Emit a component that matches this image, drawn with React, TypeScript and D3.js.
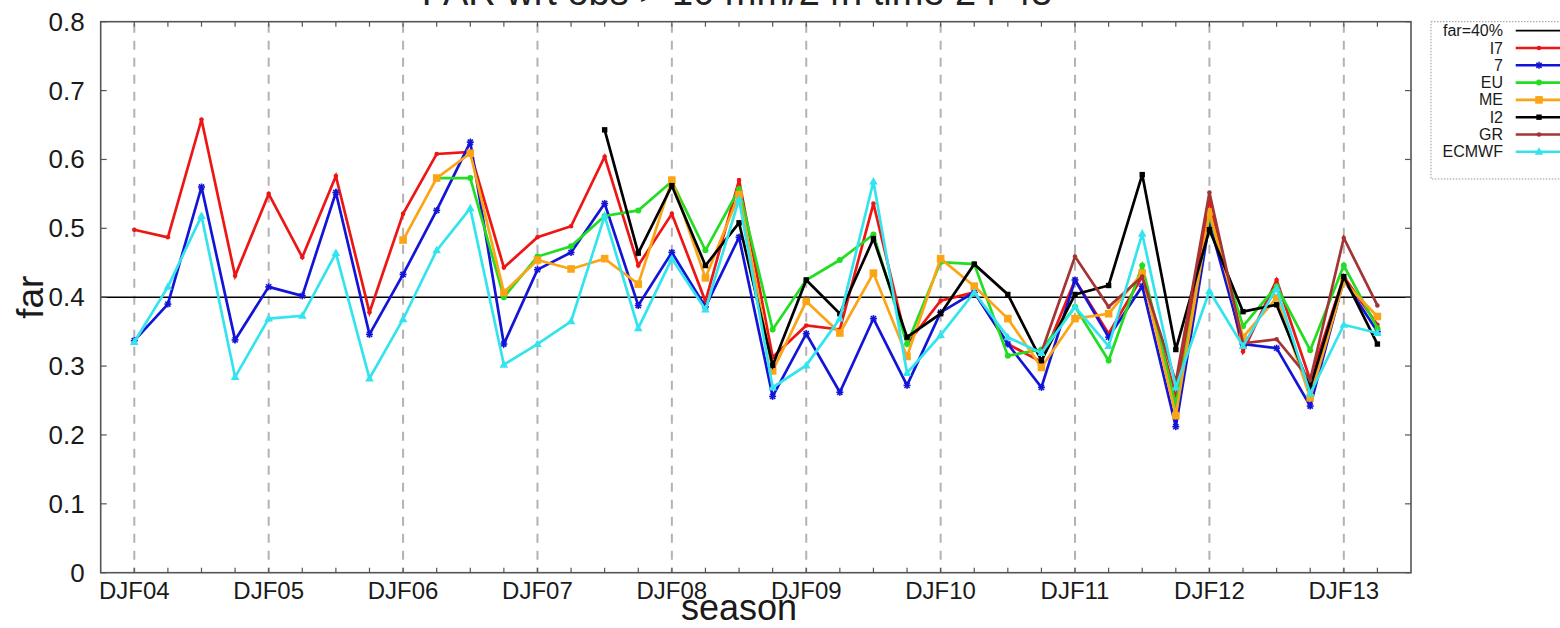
import React from 'react';
import * as d3 from 'd3';

// Seasonal FAR scores, one value per season from DJF04 to MAM13
const seasons = [
  'DJF04', 'MAM04', 'JJA04', 'SON04', 'DJF05', 'MAM05', 'JJA05', 'SON05',
  'DJF06', 'MAM06', 'JJA06', 'SON06', 'DJF07', 'MAM07', 'JJA07', 'SON07',
  'DJF08', 'MAM08', 'JJA08', 'SON08', 'DJF09', 'MAM09', 'JJA09', 'SON09',
  'DJF10', 'MAM10', 'JJA10', 'SON10', 'DJF11', 'MAM11', 'JJA11', 'SON11',
  'DJF12', 'MAM12', 'JJA12', 'SON12', 'DJF13', 'MAM13',
];

const yTicks = [0, 0.1, 0.2, 0.3, 0.4, 0.5, 0.6, 0.7, 0.8];
const threshold = 0.4;

const I7 = [0.498, 0.487, 0.658, 0.431, 0.550, 0.458, 0.576, 0.378, 0.521, 0.608, 0.611, 0.443,
  0.487, 0.503, 0.604, 0.446, 0.521, 0.394, 0.570, 0.313, 0.359, 0.353, 0.536, 0.332,
  0.395, 0.407, 0.332, 0.306, 0.425, 0.347, 0.430, 0.257, 0.542, 0.321, 0.425, 0.280, 0.430, 0.360];

const M7 = [0.337, 0.390, 0.560, 0.338, 0.415, 0.402, 0.552, 0.346, 0.433, 0.526, 0.625, 0.332,
  0.440, 0.465, 0.536, 0.388, 0.465, 0.386, 0.487, 0.256, 0.347, 0.262, 0.369, 0.272,
  0.378, 0.407, 0.332, 0.269, 0.425, 0.342, 0.416, 0.212, 0.508, 0.332, 0.326, 0.242, 0.425, 0.350];

const EU = [null, null, null, null, null, null, null, null, null, 0.573, 0.573, 0.400,
  0.459, 0.474, 0.518, 0.526, 0.568, 0.468, 0.557, 0.353, 0.425, 0.454, 0.491, 0.332,
  0.451, 0.448, 0.315, 0.324, 0.386, 0.308, 0.446, 0.243, 0.518, 0.358, 0.416, 0.323, 0.446, 0.355];

const ME = [null, null, null, null, null, null, null, null, 0.483, 0.573, 0.609, 0.407,
  0.454, 0.441, 0.456, 0.419, 0.570, 0.428, 0.549, 0.293, 0.394, 0.348, 0.435, 0.314,
  0.456, 0.416, 0.369, 0.298, 0.369, 0.376, 0.435, 0.228, 0.524, 0.342, 0.399, 0.254, 0.423, 0.372];

const I2 = [null, null, null, null, null, null, null, null, null, null, null, null,
  null, null, 0.643, 0.464, 0.562, 0.446, 0.508, 0.301, 0.425, 0.376, 0.485, 0.342,
  0.376, 0.448, 0.404, 0.308, 0.404, 0.417, 0.578, 0.324, 0.498, 0.379, 0.389, 0.269, 0.430, 0.332];

const GR = [null, null, null, null, null, null, null, null, null, null, null, null,
  null, null, null, null, null, null, null, null, null, null, null, null,
  null, null, null, 0.320, 0.459, 0.386, 0.430, 0.277, 0.552, 0.333, 0.339, 0.280, 0.486, 0.388];

const ECMWF = [0.335, 0.415, 0.518, 0.284, 0.369, 0.373, 0.464, 0.282, 0.368, 0.468, 0.529, 0.302,
  0.332, 0.365, 0.518, 0.355, 0.456, 0.382, 0.542, 0.269, 0.301, 0.369, 0.568, 0.290,
  0.345, 0.407, 0.342, 0.319, 0.386, 0.329, 0.492, 0.269, 0.409, 0.329, 0.413, 0.260, 0.360, 0.348];

type Sym = 'dot' | 'star' | 'circle' | 'square' | 'smallsquare' | 'triangle';

const series: { name: string; values: (number | null)[]; color: string; sym: Sym }[] = [
  { name: 'I7', values: I7, color: '#ee1515', sym: 'dot' },
  { name: '7', values: M7, color: '#1414d8', sym: 'star' },
  { name: 'EU', values: EU, color: '#22dd22', sym: 'circle' },
  { name: 'ME', values: ME, color: '#fba516', sym: 'square' },
  { name: 'I2', values: I2, color: '#000000', sym: 'smallsquare' },
  { name: 'GR', values: GR, color: '#a33535', sym: 'dot' },
  { name: 'ECMWF', values: ECMWF, color: '#33e4ee', sym: 'triangle' },
];

const W = 1560;
const H = 628;
const M = { left: 100.7, right: 1411, top: 21.7, bottom: 572.7 };
const FONT = '"Liberation Sans", Arial, Helvetica, sans-serif';

function Marker({ sym, cx, cy, color }: { sym: Sym; cx: number; cy: number; color: string }) {
  switch (sym) {
    case 'dot':
      return <circle cx={cx} cy={cy} r={2.3} fill={color} />;
    case 'circle':
      return <circle cx={cx} cy={cy} r={3} fill={color} />;
    case 'star':
      return (
        <g stroke={color} strokeWidth={1.6}>
          <line x1={cx - 3.5} y1={cy} x2={cx + 3.5} y2={cy} />
          <line x1={cx} y1={cy - 3.5} x2={cx} y2={cy + 3.5} />
          <line x1={cx - 2.6} y1={cy - 2.6} x2={cx + 2.6} y2={cy + 2.6} />
          <line x1={cx - 2.6} y1={cy + 2.6} x2={cx + 2.6} y2={cy - 2.6} />
        </g>
      );
    case 'square':
      return <rect x={cx - 3.8} y={cy - 3.8} width={7.6} height={7.6} fill={color} />;
    case 'smallsquare':
      return <rect x={cx - 2.7} y={cy - 2.7} width={5.4} height={5.4} fill={color} />;
    case 'triangle':
      return <path d={`M${cx},${cy - 4.5}L${cx + 4.3},${cy + 3}L${cx - 4.3},${cy + 3}Z`} fill={color} />;
  }
}

export default function App() {
  const x = d3.scaleLinear().domain([-1, seasons.length]).range([M.left, M.right]);
  const y = d3.scaleLinear().domain([0, 0.8]).range([M.bottom, M.top]);

  const line = d3
    .line<number | null>()
    .defined((d) => d != null)
    .x((_, i) => x(i))
    .y((d) => y(d as number));

  const yearIdx = seasons.map((s, i) => (s.startsWith('DJF') ? i : -1)).filter((i) => i >= 0);

  const legendX = 1431;
  const legendTop = 21.7;
  const rowH = 17.3;
  const legendRows = [
    { name: 'far=40%', color: '#000', sym: null as Sym | null },
    ...series.map((s) => ({ name: s.name, color: s.color, sym: s.sym as Sym | null })),
  ];

  return (
    <svg
      width={W}
      height={H}
      style={{ position: 'absolute', left: 0, top: 0, background: '#fff' }}
      fontFamily={FONT}
    >
      <rect x={0} y={0} width={W} height={H} fill="#fff" />

      <text x={737} y={5} textAnchor="middle" fontSize={38} fill="#222">
        FAR wrt obs &gt; 10 mm/24h time 24-48
      </text>

      {/* yearly dashed guides */}
      {yearIdx.map((i) => (
        <line
          key={`g${i}`}
          x1={x(i)}
          x2={x(i)}
          y1={M.top + 2}
          y2={M.bottom}
          stroke="#b3b3b3"
          strokeWidth={2}
          strokeDasharray="9,8"
        />
      ))}

      {/* threshold line */}
      <line x1={M.left} x2={M.right} y1={y(threshold)} y2={y(threshold)} stroke="#000" strokeWidth={1.6} />

      {/* series */}
      {series.map((s) => (
        <g key={s.name}>
          <path d={line(s.values) || ''} fill="none" stroke={s.color} strokeWidth={2.7} strokeLinejoin="miter" />
          {s.values.map((v, i) =>
            v == null ? null : <Marker key={i} sym={s.sym} cx={x(i)} cy={y(v)} color={s.color} />
          )}
        </g>
      ))}

      {/* frame */}
      <rect
        x={M.left}
        y={M.top}
        width={M.right - M.left}
        height={M.bottom - M.top}
        fill="none"
        stroke="#555"
        strokeWidth={1.6}
      />

      {/* x ticks (bottom and mirrored top) */}
      {seasons.map((s, i) => (
        <g key={`xt${i}`} stroke="#555" strokeWidth={1.2}>
          <line x1={x(i)} x2={x(i)} y1={M.bottom} y2={M.bottom - 5} />
          <line x1={x(i)} x2={x(i)} y1={M.top} y2={M.top + 5} />
        </g>
      ))}
      {yearIdx.map((i) => (
        <text key={`xl${i}`} x={x(i)} y={M.bottom + 26} textAnchor="middle" fontSize={24} fill="#1a1a1a">
          {seasons[i]}
        </text>
      ))}

      {/* y ticks (left and mirrored right) */}
      {yTicks.map((t) => (
        <g key={`yt${t}`}>
          <line x1={M.left} x2={M.left + 6} y1={y(t)} y2={y(t)} stroke="#555" strokeWidth={1.2} />
          <line x1={M.right} x2={M.right - 6} y1={y(t)} y2={y(t)} stroke="#555" strokeWidth={1.2} />
          <text x={M.left - 16} y={y(t) + 9} textAnchor="end" fontSize={26} fill="#1a1a1a">
            {t === 0 ? '0' : d3.format('.1f')(t)}
          </text>
        </g>
      ))}

      {/* axis titles */}
      <text x={739} y={620} textAnchor="middle" fontSize={36} fill="#1a1a1a">
        season
      </text>
      <text
        transform={`translate(43,${(M.top + M.bottom) / 2}) rotate(-90)`}
        textAnchor="middle"
        fontSize={37}
        fill="#1a1a1a"
      >
        far
      </text>

      {/* legend */}
      <rect
        x={legendX}
        y={legendTop}
        width={W - legendX + 20}
        height={179 - legendTop}
        fill="#fff"
        stroke="#999"
        strokeWidth={1}
        strokeDasharray="1.5,1.5"
      />
      {legendRows.map((r, i) => {
        const cy = legendTop + 9 + rowH * i;
        return (
          <g key={`lg${r.name}`}>
            <text x={1503} y={cy + 5.5} textAnchor="end" fontSize={16} fill="#1a1a1a">
              {r.name}
            </text>
            <line x1={1515.7} x2={1580} y1={cy} y2={cy} stroke={r.color} strokeWidth={r.sym ? 2.6 : 1.8} />
            {r.sym && <Marker sym={r.sym} cx={1539} cy={cy} color={r.color} />}
          </g>
        );
      })}
    </svg>
  );
}
